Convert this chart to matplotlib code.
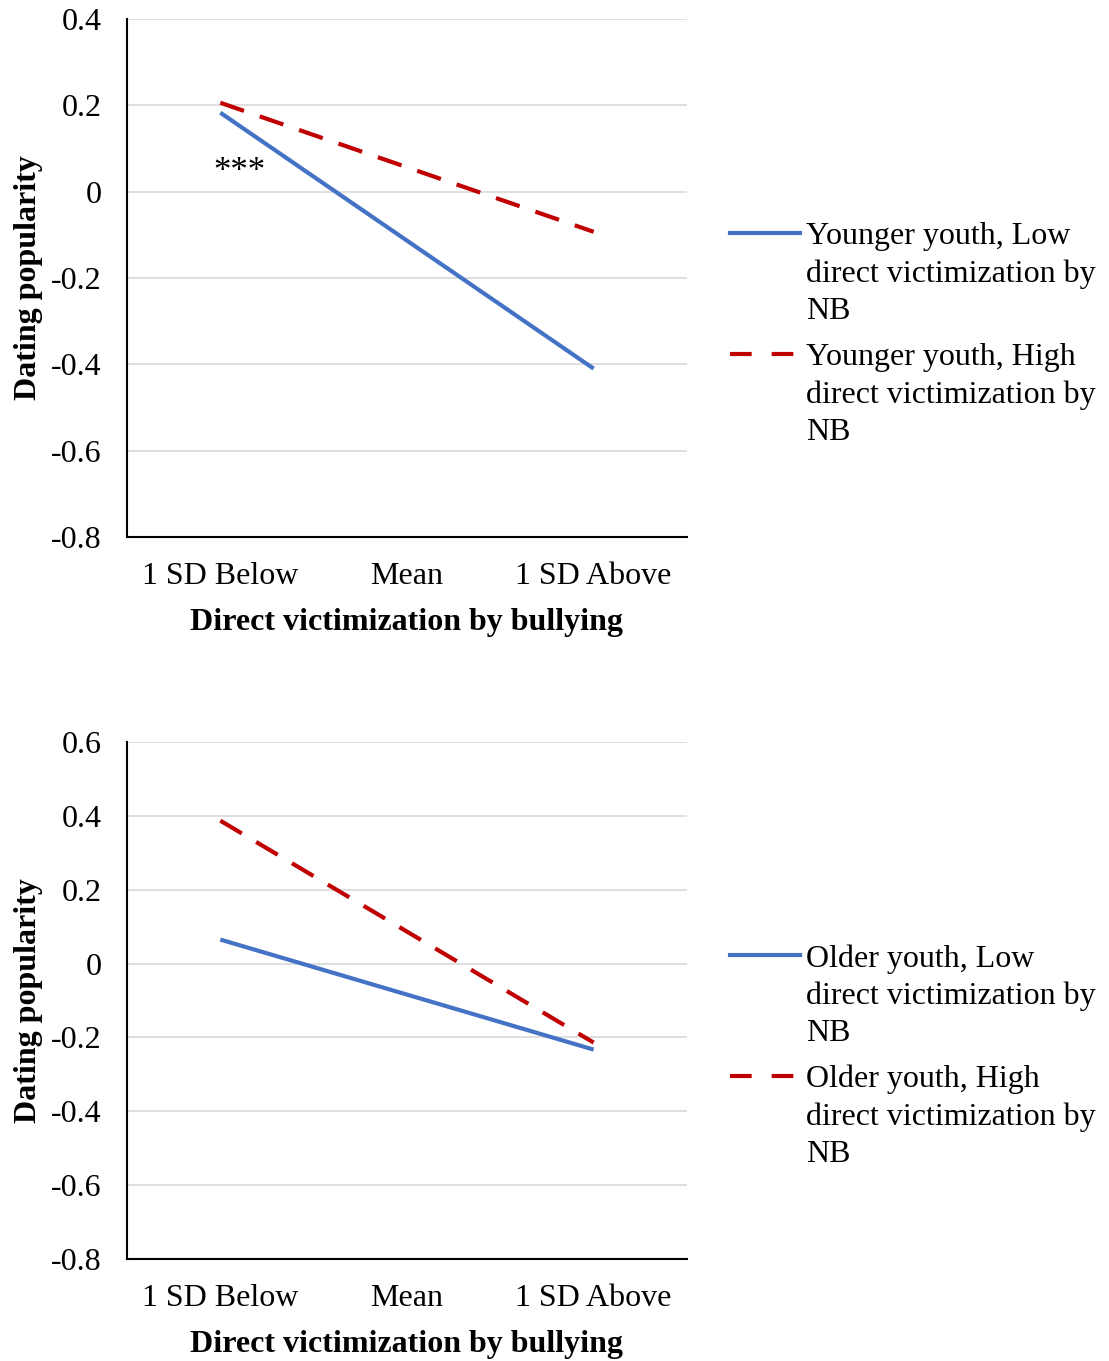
import matplotlib
matplotlib.use("Agg")
import matplotlib.pyplot as plt
from matplotlib.lines import Line2D

plt.rcParams["font.family"] = ["Liberation Serif", "DejaVu Serif"]

categorias = ["1 SD Below", "Mean", "1 SD Above"]

jovens_baixa = [0.183, None, -0.410]
jovens_alta = [0.206, None, -0.093]
velhos_baixa = [0.065, None, -0.233]
velhos_alta = [0.387, None, -0.214]

rotulos_jovens = ["Younger youth, Low\ndirect victimization by\nNB",
                  "Younger youth, High\ndirect victimization by\nNB"]
rotulos_velhos = ["Older youth, Low\ndirect victimization by\nNB",
                  "Older youth, High\ndirect victimization by\nNB"]

ticks_cima = [0.4, 0.2, 0, -0.2, -0.4, -0.6, -0.8]
ticks_baixo = [0.6, 0.4, 0.2, 0, -0.2, -0.4, -0.6, -0.8]

AZUL = "#4472C4"
VERMELHO = "#C00000"
FS = 23

fig = plt.figure(figsize=(11.09, 13.61), dpi=100)


def painel(rect, baixa, alta, ticks, rotulos, leg_y, estrelas=False):
    ax = fig.add_axes(rect)
    xs = [0, 2]
    ax.plot(xs, [baixa[0], baixa[2]], color=AZUL, lw=3, solid_capstyle="butt", zorder=3)
    ax.plot(xs, [alta[0], alta[2]], color=VERMELHO, lw=3, dashes=(6, 4), zorder=3)
    ax.set_xlim(-0.5, 2.5)
    ax.set_ylim(min(ticks), max(ticks))
    ax.set_xticks(range(3))
    ax.set_xticklabels(categorias, fontsize=FS)
    ax.set_yticks(ticks)
    ax.set_yticklabels(["0" if t == 0 else f"{t:.1f}" for t in ticks], fontsize=FS)
    ax.tick_params(axis="y", length=0, pad=18)
    ax.tick_params(axis="x", length=0, pad=18)
    ax.grid(axis="y", color="#d9d9d9", lw=1.2)
    ax.set_axisbelow(True)
    for s in ["top", "right"]:
        ax.spines[s].set_visible(False)
    ax.spines["left"].set_linewidth(1.5)
    ax.spines["bottom"].set_linewidth(1.5)
    ax.set_xlabel("Direct victimization by bullying", fontsize=FS, fontweight="bold", labelpad=12)
    ax.set_ylabel("Dating popularity", fontsize=FS, fontweight="bold", labelpad=6)
    if estrelas:
        ax.text(0.1, 0.045, "***", fontsize=FS + 2, ha="center", va="center")

    # legenda manual
    for i, (rot, cor, tr) in enumerate(zip(rotulos, [AZUL, VERMELHO], [None, (6, 4)])):
        y = leg_y - i * 121 / 1361
        ln = Line2D([730 / 1109, 800 / 1109], [y, y], transform=fig.transFigure,
                    color=cor, lw=3)
        if tr:
            ln.set_dashes((5.2, 4.8))
        fig.add_artist(ln)
        fig.text(806 / 1109, y + 11 / 1361, rot, fontsize=FS, va="top", ha="left",
                 linespacing=1.37)
    return ax


painel([127 / 1109, 1 - 537 / 1361, 560 / 1109, 518 / 1361],
       jovens_baixa, jovens_alta, ticks_cima, rotulos_jovens, 1 - 233 / 1361, estrelas=True)
painel([127 / 1109, 1 - 1259 / 1361, 560 / 1109, 517 / 1361],
       velhos_baixa, velhos_alta, ticks_baixo, rotulos_velhos, 1 - 955 / 1361)

fig.savefig("out.png", dpi=100)
